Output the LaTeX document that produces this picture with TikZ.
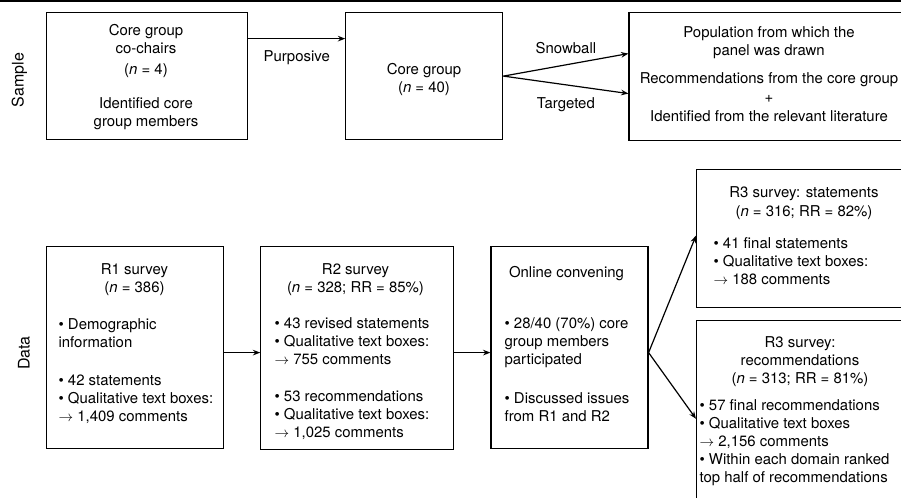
\documentclass[tikz,border=0pt]{standalone}
\usepackage{fontspec}
\setmainfont{TeX Gyre Heros}
\usepackage{tikz}
\usetikzlibrary{positioning}
\usetikzlibrary{arrows.meta}

\begin{document}
\begin{tikzpicture}[->,>={Stealth[length=5.5pt,width=4.2pt]},x=0.75pt,y=-0.75pt,
                    line width=0.9pt]
\tikzstyle{box}=[draw=black,rectangle,inner sep=0pt]
\tikzstyle{txt}=[inner sep=0pt,align=center]
\tikzstyle{lst}=[inner sep=0pt,align=left,anchor=west]
\tikzset{font=\fontsize{11.2pt}{13.5pt}\selectfont}

  \useasboundingbox (0,0) rectangle (901,497);
  \clip (0,0) rectangle (901,497);
  \draw[-,line width=1.5pt] (0,1) -- (901,1);

        % sample row
        \node[box,minimum width=150.75pt,minimum height=95.25pt,anchor=north west]   (cochairs) at (46,12) {};
        \node[box,minimum width=117.75pt,minimum height=95.25pt,right=72.75pt of cochairs] (core) {};
        \node[box,minimum width=230pt,minimum height=96pt,right=93.75pt of core]           (pop) {};

        \node[txt]              (cochairs-t) at (146,51)  {Core group\\co-chairs\\[2pt](\textit{n} = 4)};
        \node[txt]              (members)    at (146,114) {Identified core\\group members};
        \node[txt]              (core-t)     at (424,80)  {Core group\\(\textit{n} = 40)};
        \node[txt]              (pop-t)      at (769,43)  {Population from which the\\panel was drawn};
        \node[txt]              (pop-src)    at (769,97)  {Recommendations from the core group\\[0.5pt]+\\[0.5pt]Identified from the relevant literature};

        % data row
        \node[box,minimum width=132.75pt,minimum height=151.5pt,anchor=north west]   (r1) at (46,246) {};
        \node[box,minimum width=144.75pt,minimum height=152.25pt,right=27pt of r1]      (r2) {};
        \node[box,minimum width=117.75pt,minimum height=151.5pt,right=27pt of r2]       (oc) {};
        \node[box,minimum width=190pt,minimum height=103.5pt,anchor=north west]      (r3s) at (696,169) {};
        \node[box,minimum width=190pt,minimum height=147pt,below=9pt of r3s]           (r3r) {};

        \node[txt]              (r1-t)   at (134.5,280) {R1 survey\\(\textit{n} = 386)};
        \node[lst]              (r1-l)   at (58,371)    {• Demographic\\information\\[15pt]• 42 statements\\• Qualitative text boxes:\\$\rightarrow$ 1,409 comments};
        \node[txt]              (r2-t)   at (355.5,280) {R2 survey\\(\textit{n} = 328; RR = 85\%)};
        \node[lst]              (r2-l)   at (274,379)   {• 43 revised statements\\• Qualitative text boxes:\\$\rightarrow$ 755 comments\\[14.25pt]• 53 recommendations\\• Qualitative text boxes:\\$\rightarrow$ 1,025 comments};
        \node[txt]              (oc-t)   at (566.5,273.5) {Online convening};
        \node[lst]              (oc-l)   at (504,370)   {• 28/40 (70\%) core\\group members\\participated\\[15.75pt]• Discussed issues\\from R1 and R2};
        \node[txt]              (r3s-t)  at (804,203)   {R3 survey: statements\\[1pt](\textit{n} = 316; RR = 82\%)};
        \node[lst]              (r3s-l)  at (713,261)   {• 41 final statements\\• Qualitative text boxes:\\$\rightarrow$ 188 comments};
        \node[txt]              (r3r-t)  at (800,362)   {R3 survey:\\recommendations\\(\textit{n} = 313; RR = 81\%)};
        \node[lst]              (r3r-l)  at (699,443)   {• 57 final recommendations\\• Qualitative text boxes\\$\rightarrow$ 2,156 comments\\• Within each domain ranked\\top half of recommendations};

        \node[txt,rotate=90,font=\fontsize{12pt}{14pt}\selectfont] (sample) at (19.5,80)   {Sample};
        \node[txt,rotate=90,font=\fontsize{12pt}{14pt}\selectfont] (data)   at (24,353)    {Data};

        \path[->]
        ([yshift=28.1pt]cochairs.east) edge node[midway,yshift=-14.25pt] {Purposive} ([yshift=28.1pt]core.west)
        (core.east)          edge node[midway,yshift=12.75pt]  {Snowball}  ([yshift=16.9pt]pop.west)
        (core.east)          edge node[midway,yshift=-14.6pt]  {Targeted}  ([yshift=-13.1pt]pop.west)
        ([yshift=-3.75pt]r1.east) edge ([yshift=-3.75pt]r2.west)
        ([yshift=-3.75pt]r2.east) edge ([yshift=-3.75pt]oc.west)
        ([yshift=-3.75pt]oc.east) edge ([yshift=2.25pt]r3s.west)
        ([yshift=-3.75pt]oc.east) edge (r3r.west)
        ; %end path

\end{tikzpicture}
\end{document}
